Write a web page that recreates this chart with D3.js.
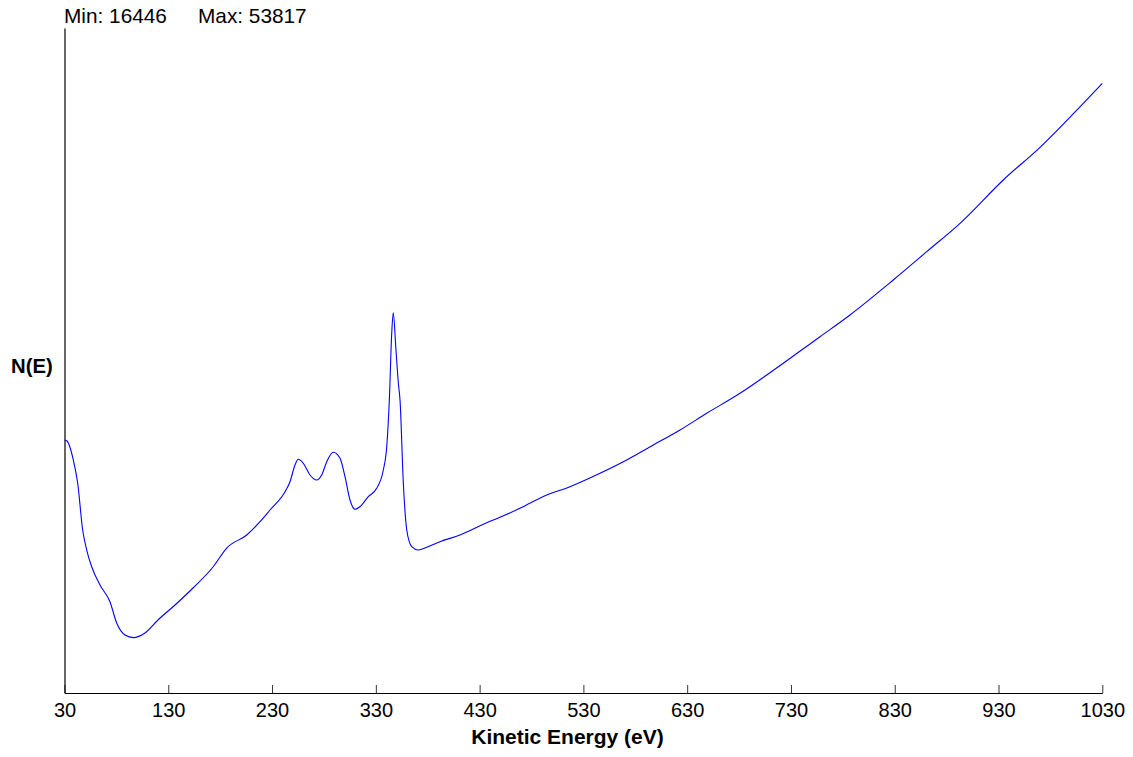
<!DOCTYPE html>
<html>
<head>
<meta charset="utf-8">
<script src="https://cdn.jsdelivr.net/npm/d3@7"></script>
<style>
  html, body { margin: 0; padding: 0; background: #fff; }
  svg { display: block; }
  text { font-family: Arial, "Liberation Sans", Helvetica, sans-serif; fill: #000; }
</style>
</head>
<body>
<svg id="chart" width="1133" height="757"></svg>
<script>
// ---- data ----
const energy = [30, 32.4, 38.5, 42.7, 47.5, 51.4, 56.2, 64.2, 73.8, 80.3, 88.3, 96.3, 107.6, 120.1, 136.5, 153.8, 173.1, 186.3, 205.6, 218.4,
  228.0, 242.5, 247.3, 252.1, 255.3, 260.1, 266.6, 273.0, 277.8, 282.7, 289.0, 295.5, 300.3, 305.1, 309.9, 314.7, 322.7, 330.8, 337.2, 340.5,
  343.0, 345.3, 346.8, 349.4, 351.7, 353.3, 356.5, 359.8, 364.6, 370.9, 379.0, 391.8, 411.1, 436.8, 449.6, 468.9, 494.7, 517.1, 546.0, 571.7,
  597.4, 623.1, 648.8, 680.9, 706.7, 758.0, 786.9, 828.6, 860.8, 892.9, 934.6, 970.0, 1011.7, 1030];
const counts = [29770, 29703, 28422, 26871, 23701, 22352, 21226, 19992, 18866, 17430, 16620, 16446, 16755, 17632, 18643, 19790, 21206, 22487, 23364, 24261,
  25050, 26284, 26958, 28084, 28469, 28199, 27410, 27073, 27410, 28307, 28941, 28536, 27296, 25724, 25097, 25272, 25947, 26513, 27747, 29319,
  32468, 36966, 38355, 35840, 33594, 32468, 26850, 23701, 22575, 22352, 22534, 22912, 23364, 24193, 24557, 25165, 26061, 26621, 27525, 28422,
  29433, 30445, 31571, 32920, 34154, 36737, 38200, 40560, 42469, 44384, 47304, 49509, 52476, 53817];
const xTicks = [30, 130, 230, 330, 430, 530, 630, 730, 830, 930, 1030];
const minLabel = "Min: 16446";
const maxLabel = "Max: 53817";
const xTitle = "Kinetic Energy (eV)";
const yTitle = "N(E)";

// ---- layout ----
const svg = d3.select("#chart");
const mLeft = 64.5, mRight = 1102.3, mTop = 28, mBottom = 693;

const yMin = d3.min(counts), yMax = d3.max(counts);
const pad = (yMax - yMin) * 0.1;

const x = d3.scaleLinear().domain([30, 1030]).range([mLeft, mRight]);
const y = d3.scaleLinear().domain([yMin - pad, yMax + pad]).range([mBottom, mTop]);

// x axis
const xAxis = svg.append("g")
  .attr("transform", `translate(0,${mBottom})`)
  .call(d3.axisBottom(x).tickValues(xTicks).tickFormat(d3.format("d"))
        .tickSizeInner(-8).tickSizeOuter(0).tickPadding(9.5));
xAxis.select(".domain").attr("stroke", "#000").attr("stroke-width", 1.2);
xAxis.selectAll(".tick line").attr("stroke", "#333").attr("stroke-width", 1);
xAxis.selectAll(".tick text")
  .attr("font-size", 20)
  .attr("font-family", 'Arial, "Liberation Sans", sans-serif')
  .attr("fill", "#000");

// y axis (line only)
const yAxis = svg.append("g")
  .attr("transform", `translate(${mLeft},0)`)
  .call(d3.axisLeft(y).tickValues([]).tickSizeOuter(0));
yAxis.select(".domain").attr("stroke", "#000").attr("stroke-width", 1.2);

// line
const line = d3.line()
  .x((d, i) => x(energy[i]))
  .y(d => y(d))
  .curve(d3.curveMonotoneX);

svg.append("path")
  .datum(counts)
  .attr("fill", "none")
  .attr("stroke", "#0000ff")
  .attr("stroke-width", 1.1)
  .attr("d", line);

// texts
svg.append("text").attr("x", 64).attr("y", 23).attr("font-size", 20.8).text(minLabel);
svg.append("text").attr("x", 198).attr("y", 23).attr("font-size", 20.8).text(maxLabel);

svg.append("text")
  .attr("x", 567.5).attr("y", 743.5)
  .attr("text-anchor", "middle")
  .attr("font-size", 21).attr("font-weight", "bold")
  .text(xTitle);

svg.append("text")
  .attr("x", 11).attr("y", 373)
  .attr("font-size", 20.3).attr("font-weight", "bold")
  .text(yTitle);
</script>
</body>
</html>
